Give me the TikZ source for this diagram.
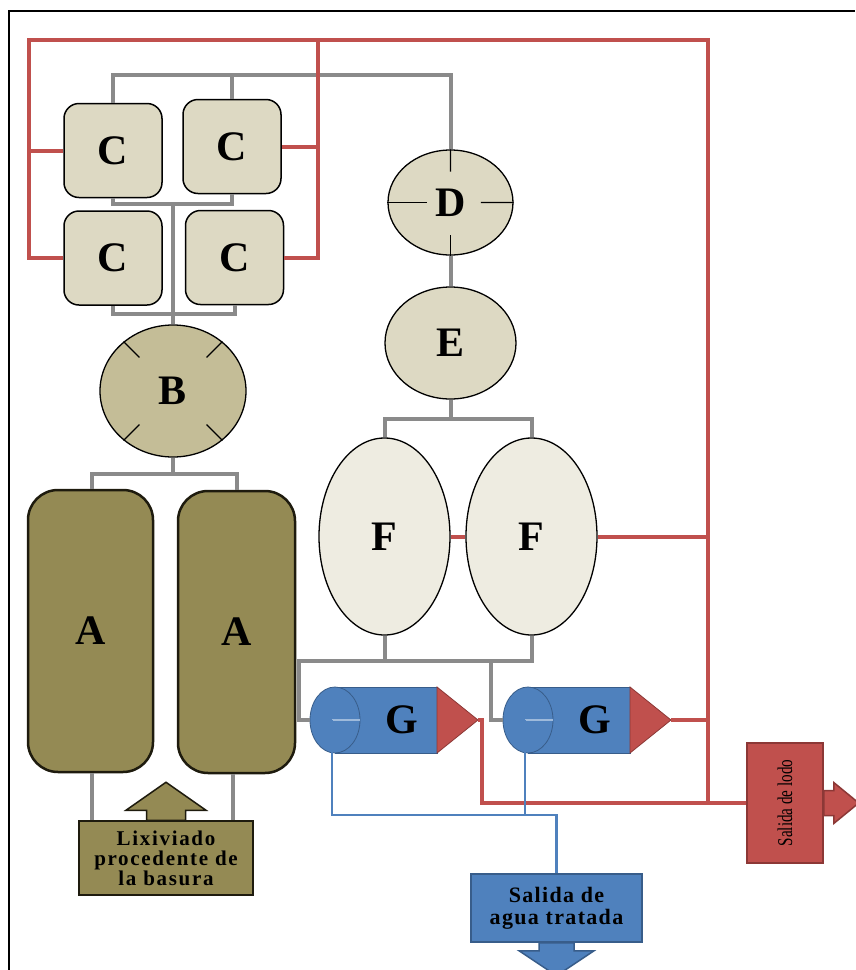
\documentclass[tikz,border=0pt]{standalone}
\usepackage{fontspec}
\setmainfont{Liberation Serif}
\definecolor{tanlight}{HTML}{DDD9C3}
\definecolor{tanmid}{HTML}{C4BD97}
\definecolor{tanpale}{HTML}{EEECE1}
\definecolor{olivetank}{HTML}{948A54}
\definecolor{olivedark}{HTML}{1E1B0E}
\definecolor{pipegray}{HTML}{8A8A8A}
\definecolor{sludgered}{HTML}{C0504D}
\definecolor{sludgedark}{HTML}{8C3836}
\definecolor{waterblue}{HTML}{4F81BD}
\definecolor{waterdark}{HTML}{385D8A}
\newcommand{\plantletter}{\fontsize{42}{48}\selectfont\bfseries}
\usetikzlibrary{shapes.geometric,calc}

\begin{document}
\begin{tikzpicture}[
x=1pt, y=-1pt,
cbox/.style={rectangle, draw, line width=1.5pt, rounded corners=15pt, fill=tanlight, minimum width=98pt, minimum height=94pt, font=\plantletter},
tank/.style={rectangle, draw=olivedark, line width=2.5pt, rounded corners=30pt, fill=olivetank, minimum height=282pt, font=\plantletter},
ball/.style={ellipse, draw, line width=1.3pt, inner sep=0pt, font=\plantletter},
tick/.style={line width=1.3pt},
gpipe/.style={draw=pipegray, line width=4pt},
rpipe/.style={draw=sludgered, line width=4pt},
bpipe/.style={draw=waterblue, line width=2.5pt},
gcyl/.style={fill=waterblue, draw=waterdark, line width=0.8pt},
outbox/.style={rectangle, line width=1.5pt, align=center, inner sep=2pt}
]
\useasboundingbox (0,0) rectangle (855,970);
\draw[line width=1.2pt] (9,970) -- (9,11) -- (855,11);

% sedimentation units and mixers
\node (c1) [cbox] at (113,150.5) {C};
\node (c2) [cbox] at (232,146.5) {C};
\node (c3) [cbox] at (113,258) {C};
\node (c4) [cbox] at (234.5,257.5) {C};
\node (b) [ball, fill=tanmid, minimum width=146pt, minimum height=132pt] at (173,391) {B};
\node (d) [ball, fill=tanlight, minimum width=125pt, minimum height=105pt] at (450.5,202.5) {D};
\node (e) [ball, fill=tanlight, minimum width=131pt, minimum height=112pt] at (450.5,343) {E};
\node (f1) [ball, fill=tanpale, minimum width=131pt, minimum height=197pt] at (384.5,536.5) {F};
\node (f2) [ball, fill=tanpale, minimum width=131pt, minimum height=197pt] at (531.5,536.5) {F};
\node (a1) [tank, minimum width=125pt] at (90.5,631) {A};
\node (a2) [tank, minimum width=117pt] at (236.5,632) {A};

\foreach \ang in {45,135,225,315}
  \draw[tick] ($(b.center)!0.68!(b.\ang)$) -- (b.\ang);
\draw[tick] ($(d.center)!0.58!(d.north)$) -- (d.north);
\draw[tick] ($(d.center)!0.62!(d.south)$) -- (d.south);
\draw[tick] ($(d.center)!0.38!(d.west)$) -- (d.west);
\draw[tick] ($(d.center)!0.48!(d.east)$) -- (d.east);

% inlet and outlets
\node (lix) [outbox, draw=olivedark, fill=olivetank, minimum width=174pt, minimum height=74pt,
  font=\fontsize{21}{20}\selectfont\bfseries\addfontfeature{LetterSpace=8}] at (166,858)
  {Lixiviado\\procedente de\\la basura};
\filldraw[draw=olivedark, fill=olivetank, line width=1.5pt] ([xshift=-19.5pt]lix.north) -- ++(0,-10) -- ++(-20.5,0)
  -- ++(40,-28) -- ++(40,28) -- ++(-20.5,0) -- ++(0,10) -- cycle;
\node (agua) [outbox, draw=waterdark, fill=waterblue, minimum width=171pt, minimum height=68pt,
  font=\fontsize{22}{22}\selectfont\bfseries\addfontfeature{LetterSpace=6}] at (556.5,908)
  {Salida de\\agua tratada};
\filldraw[draw=waterdark, fill=waterblue, line width=1.5pt] ([xshift=-17.5pt]agua.south) -- ++(0,8) -- ++(-20,0)
  -- ++(37.5,25) -- ++(37.5,-25) -- ++(-20,0) -- ++(0,-8) -- cycle;
\node (lodo) [outbox, draw=sludgedark, fill=sludgered, minimum width=76pt, minimum height=120pt] at (785,803) {};
\node [rotate=90, font=\fontsize{21}{21}\selectfont] at (lodo.center) {\scalebox{0.72}[1]{Salida de lodo}};
\filldraw[draw=sludgedark, fill=sludgered, line width=1.5pt] ([yshift=12.5pt]lodo.east) -- ++(10,0) -- ++(0,-8)
  -- ++(25,20.5) -- ++(-25,20.5) -- ++(0,-8) -- ++(-10,0) -- cycle;

% grey pipes
\coordinate (fjoin) at (299,661);
\draw[gpipe] (c1.north) -- ++(0,-28) -| (d.north);
\draw[gpipe] (c2.north) -- ++(0,-24);
\draw[gpipe] (c1.south) -- ++(0,6) -| (c2.south);
\draw[gpipe] (c3.south) -- ++(0,8) -| (c4.south);
\draw[gpipe] (b.north) -- ++(0,-122);
\draw[gpipe] (b.south) -- ++(0,16) coordinate (bsplit) -| ([xshift=1.5pt]a1.north);
\draw[gpipe] (bsplit) -| (a2.north);
\draw[gpipe] ([xshift=1.5pt]a1.south) -- ([xshift=1.5pt]a1.south |- lix.north);
\draw[gpipe] ([xshift=-3.5pt]a2.south) -- ([xshift=-3.5pt]a2.south |- lix.north);
\draw[gpipe] (d.south) -- (e.north);
\draw[gpipe] (e.south) -- ++(0,19) coordinate (esplit) -| (f1.north);
\draw[gpipe] (esplit) -| (f2.north);
\draw[gpipe] (f1.south) -- (f1.south |- fjoin);

% centrifuges
\foreach \n/\x in {1/310,2/503} {
  \draw[gpipe] (fjoin) ++(\x-299,59) coordinate (g\n in);
  \path[gcyl] (\x+25,687) rectangle (\x+127,753);
  \path[gcyl] (\x+25,720) ellipse [x radius=25pt, y radius=33pt];
  \filldraw[fill=sludgered, draw=sludgedark, line width=0.8pt] (\x+127,687) -- (\x+168,720) -- (\x+127,753) -- cycle;
  \node (g\n) [font=\plantletter] at (\x+92,720) {G};
  \coordinate (g\n cap) at (\x+22,720);
  \coordinate (g\n tip) at (\x+168,720);
  \draw[waterblue!55!white, line width=2pt] (g\n cap) -- (\x+50,720);
}
\draw[gpipe] (f2.south) |- (fjoin) |- (g1in);
\draw[gpipe] (g2in) -- ++(-12,0) -- ++(0,-59);

% sludge line
\coordinate (rtl) at (29,40);
\coordinate (rmid) at (318,40);
\coordinate (rtr) at (708,40);
\draw[rpipe] (c3.west) -| (rtl) -- (rtr) |- (lodo.west);
\draw[rpipe] (c1.west) -- (c1.west -| rtl);
\draw[rpipe] (c4.east) -| (rmid);
\draw[rpipe] (c2.east) -- (c2.east -| rmid);
\draw[rpipe] (f1.east) -- (f2.west);
\draw[rpipe] (f2.east) -- (f2.east -| rtr);
\draw[rpipe] (g2tip) -- (g2tip -| rtr);
\draw[rpipe] (g1tip) -- ++(4,0) |- (lodo.west);

% treated water
\draw[bpipe] (g1cap) -- ++(0,95) -| (agua.north);
\draw[bpipe] (g2cap) -- ++(0,95);
\end{tikzpicture}
\end{document}
